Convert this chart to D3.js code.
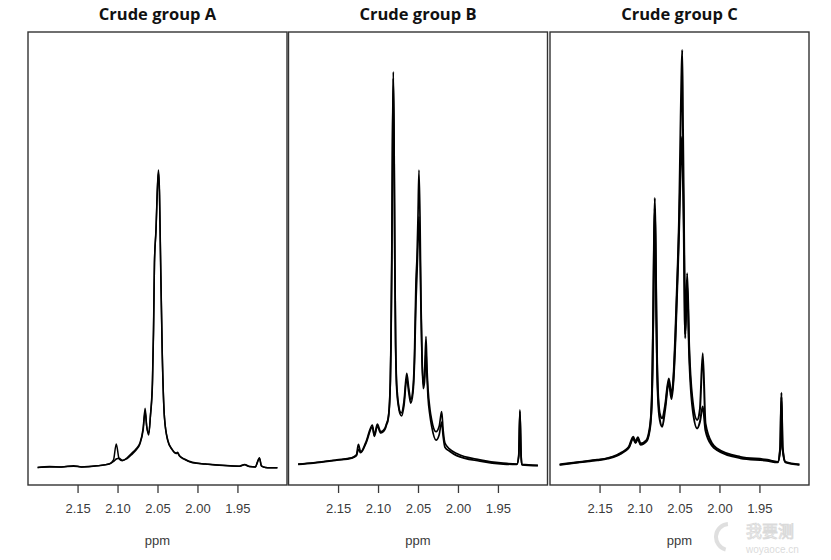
<!DOCTYPE html>
<html lang="en">
<head>
<meta charset="UTF-8">
<title>Crude groups NMR</title>
<script src="https://d3js.org/d3.v7.min.js"></script>
<style>
  body { margin: 0; background: #fff; }
  svg { display: block; }
  .title { font-family: 'Open Sans', sans-serif; font-weight: 700; font-size: 16.5px; fill: #111; }
  .tick text { font-family: 'Liberation Sans', Arial, sans-serif; font-size: 13px; fill: #3a3a3a; }
  .tick line { stroke: #3a3a3a; }
  .xlab { font-family: 'Liberation Sans', Arial, sans-serif; font-size: 13px; fill: #3a3a3a; }
</style>
</head>
<body>
<svg id="chart" width="831" height="560"></svg>
<script>
// panel titles and ppm ticks
const titles = ["Crude group A", "Crude group B", "Crude group C"];
const ppmTicks = [2.15, 2.10, 2.05, 2.00, 1.95];

// each row: [ppm, spectrum 1, spectrum 2] (relative intensity)
const groupA = [
  [2.200, 0.2, 0.2], [2.185, 0.4, 0.3], [2.170, 0.3, 0.3], [2.155, 0.6, 0.5], [2.145, 0.3, 0.3],
  [2.125, 0.6, 0.6], [2.110, 1.1, 1.0], [2.105, 2.0, 1.6], [2.1016, 5.8, 2.2], [2.098, 2.2, 2.4],
  [2.094, 1.8, 1.9], [2.088, 2.5, 2.3], [2.082, 3.6, 3.3], [2.077, 4.6, 4.3], [2.072, 6.0, 5.8],
  [2.068, 9.5, 9.0], [2.0655, 14.3, 13.5], [2.0635, 10.0, 10.0], [2.061, 7.9, 8.3], [2.0588, 12.7, 12.5],
  [2.0563, 21, 20], [2.055, 33, 32], [2.0544, 41.7, 40], [2.0538, 49, 49], [2.0519, 57, 56.5],
  [2.050, 67.5, 67], [2.0488, 71.1, 70.5], [2.0475, 66, 65], [2.0463, 52, 51], [2.0441, 28, 27.5],
  [2.0413, 12.2, 12.0], [2.0371, 6.7, 6.5], [2.032, 4.6, 4.5], [2.0266, 3.6, 3.5], [2.025, 3.8, 3.6],
  [2.0225, 3.0, 2.9], [2.0163, 2.2, 2.1], [2.0063, 1.4, 1.3], [1.990, 1.0, 1.0], [1.9475, 0.5, 0.5],
  [1.941, 0.9, 0.8], [1.935, 0.4, 0.4], [1.9275, 0.3, 0.3], [1.925, 1.5, 1.4], [1.9225, 2.5, 2.4],
  [1.920, 0.6, 0.5], [1.915, 0.2, 0.2], [1.900, 0.1, 0.1]
];

const groupB = [
  [2.200, 1.0, 0.9], [2.181, 1.3, 1.2], [2.1516, 2.0, 1.9], [2.1329, 2.5, 2.4], [2.127, 3.2, 3.0],
  [2.1246, 5.7, 4.5], [2.1217, 3.9, 3.7], [2.115, 6.3, 6.0], [2.1071, 10.3, 9.8], [2.1046, 7.9, 7.6],
  [2.1009, 10.5, 10.0], [2.0966, 8.7, 8.4], [2.0915, 9.5, 9.2], [2.0891, 10.8, 10.5], [2.0878, 11.5, 11.2],
  [2.0866, 13, 12.7], [2.0855, 16, 15.6], [2.0846, 21, 20.5], [2.0838, 30, 29], [2.0828, 50, 49],
  [2.0819, 78, 76], [2.0809, 94.5, 93], [2.0799, 78, 76], [2.079, 50, 49], [2.078, 30, 29],
  [2.0771, 22, 21], [2.0759, 18, 17], [2.0746, 15.5, 15], [2.0725, 13.5, 13], [2.0704, 13.2, 12.5],
  [2.0675, 16, 15], [2.0641, 22.6, 21.5], [2.0615, 19, 18], [2.0591, 16.3, 15.5], [2.0563, 19, 18],
  [2.0544, 27, 25], [2.0525, 45, 40], [2.0513, 50, 46], [2.050, 60, 54], [2.0488, 71.1, 60],
  [2.0475, 60, 52], [2.0463, 40, 38], [2.045, 27, 26], [2.0434, 20, 19], [2.0419, 22, 20.5],
  [2.040, 31.4, 28], [2.0388, 24, 22], [2.0375, 19, 17], [2.035, 14, 12.5], [2.0329, 11.5, 10.0],
  [2.0275, 8.7, 6.7], [2.0235, 10, 8], [2.0204, 13.5, 11.0], [2.0185, 9, 7.5], [2.0163, 6.0, 5.0],
  [2.010, 4.5, 4.0], [2.0016, 3.5, 3.0], [1.9725, 2.0, 1.7], [1.9434, 1.2, 1.0], [1.9263, 1.0, 0.9],
  [1.924, 3, 2.8], [1.9225, 13.9, 13.5], [1.921, 3, 2.8], [1.920, 0.9, 0.8], [1.900, 0.7, 0.6]
];

const groupC = [
  [2.200, 0.9, 0.8], [2.175, 1.5, 1.4], [2.1529, 2.0, 1.9], [2.140, 2.4, 2.3], [2.1279, 3.2, 3.0],
  [2.1238, 3.6, 3.4], [2.118, 4.3, 4.1], [2.1134, 5.1, 4.9], [2.1079, 7.5, 7.0], [2.105, 6.3, 6.0],
  [2.1021, 7.4, 7.0], [2.0988, 5.9, 5.6], [2.0913, 6.7, 6.4], [2.0878, 9, 8.5], [2.0866, 10.5, 10],
  [2.0855, 13, 12.5], [2.0846, 17, 16], [2.0838, 24, 23], [2.0828, 38, 36], [2.0819, 54, 52],
  [2.0809, 64.4, 62], [2.0799, 54, 52], [2.079, 38, 36], [2.078, 25, 23.5], [2.0771, 19, 17.5],
  [2.0759, 15, 13.5], [2.0746, 13, 11.5], [2.0716, 11.9, 9.9], [2.068, 15, 14], [2.0634, 21.4, 20.5],
  [2.060, 17.5, 16.5], [2.0575, 22, 21], [2.055, 33, 31], [2.0521, 49, 47], [2.0505, 60, 57],
  [2.0488, 80, 70], [2.0476, 93, 77], [2.0466, 99.7, 79], [2.0456, 80, 68], [2.0446, 62, 56],
  [2.0434, 38, 36], [2.0429, 31, 32], [2.0404, 46.5, 44], [2.0379, 29, 27], [2.0341, 17, 15],
  [2.0279, 11.5, 9.5], [2.0245, 14, 11], [2.0209, 27.4, 14.7], [2.0175, 10.7, 9.0], [2.0091, 5.9, 5.3],
  [2.0029, 4.7, 4.3], [1.9738, 2.7, 2.4], [1.9404, 2.0, 1.8], [1.9271, 1.5, 1.4], [1.924, 5, 4.5],
  [1.9225, 18.0, 17], [1.921, 5, 4.5], [1.9175, 1.5, 1.4], [1.900, 0.9, 0.8]
];

const panels = [
  { title: titles[0], rows: groupA, left: 28, sw: 1.5 },
  { title: titles[1], rows: groupB, left: 288.5, sw: 1.7 },
  { title: titles[2], rows: groupC, left: 550, sw: 2 }
];

const svg = d3.select("#chart");
const panelW = 259, plotTop = 32, plotBottom = 485;

panels.forEach(p => {
  const x = d3.scaleLinear().domain([2.212, 1.888]).range([p.left, p.left + panelW]);
  const y = d3.scaleLinear().domain([-4, 104]).range([plotBottom, plotTop]);

  svg.append("text")
    .attr("class", "title")
    .attr("x", p.left + panelW / 2)
    .attr("y", 20)
    .attr("text-anchor", "middle")
    .text(p.title);

  // draw spectrum 2 first, then spectrum 1 on top
  [2, 1].forEach(k => {
    const line = d3.line()
      .x(d => x(d[0]))
      .y(d => y(d[k]))
      .curve(d3.curveMonotoneX);
    svg.append("path")
      .datum(p.rows)
      .attr("fill", "none")
      .attr("stroke", "#000")
      .attr("stroke-width", p.sw)
      .attr("stroke-linejoin", "round")
      .attr("d", line);
  });

  svg.append("rect")
    .attr("x", p.left)
    .attr("y", plotTop)
    .attr("width", panelW)
    .attr("height", plotBottom - plotTop)
    .attr("fill", "none")
    .attr("stroke", "#333")
    .attr("stroke-width", 1.4);

  const ax = svg.append("g")
    .attr("transform", `translate(0,${plotBottom})`)
    .call(d3.axisBottom(x).tickValues(ppmTicks).tickFormat(d3.format(".2f")).tickSize(8).tickPadding(11));
  ax.select(".domain").remove();
  ax.selectAll(".tick line").attr("stroke-width", 1.3);

  svg.append("text")
    .attr("class", "xlab")
    .attr("x", x(2.05))
    .attr("y", 545)
    .attr("text-anchor", "middle")
    .text("ppm");
});

// faint watermark
const wm = svg.append("g").attr("opacity", 0.3);
wm.append("path")
  .attr("d", d3.arc()({ innerRadius: 11, outerRadius: 15, startAngle: 3.4, endAngle: 6.2 }))
  .attr("transform", "translate(729,537)")
  .attr("fill", "#999");
wm.append("text")
  .attr("x", 746).attr("y", 537)
  .attr("font-family", "'Noto Sans CJK SC', sans-serif")
  .attr("font-size", 16)
  .attr("fill", "#fff").attr("stroke", "#888").attr("stroke-width", 0.9)
  .text("我要测");
wm.append("text")
  .attr("x", 746).attr("y", 553)
  .attr("font-family", "'Liberation Sans', sans-serif")
  .attr("font-size", 10)
  .attr("fill", "#888")
  .text("woyaoce.cn");
</script>
</body>
</html>
